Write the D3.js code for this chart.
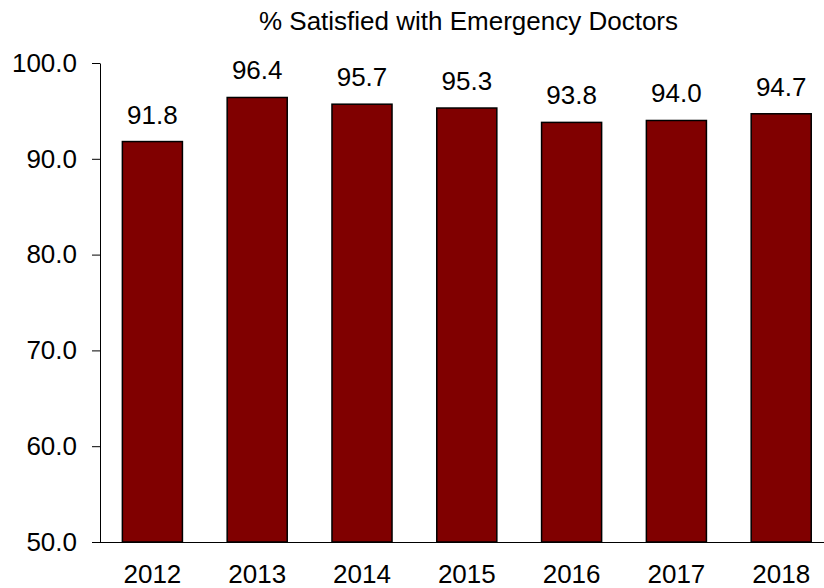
<!DOCTYPE html>
<html><head><meta charset="utf-8">
<script src="https://cdn.jsdelivr.net/npm/d3@7"></script>
<style>body{margin:0;background:#fff}svg{display:block}text{font-family:"Liberation Sans",Arial,sans-serif;fill:#000}</style>
</head><body><svg id="c" width="824" height="588"></svg>
<script>
const years = ["2012","2013","2014","2015","2016","2017","2018"];
const satisfied = [91.8,96.4,95.7,95.3,93.8,94.0,94.7];
const yTicks = [50,60,70,80,90,100];
const title = "% Satisfied with Emergency Doctors";

const svg = d3.select("#c");
const x = d3.scaleBand().domain(years).range([100, 833.6]).paddingInner(0.427).paddingOuter(0.2135);
const y = d3.scaleLinear().domain([50,100]).range([542, 63]);

svg.append("text").attr("x", 468.5).attr("y", 30).attr("text-anchor","middle")
  .style("font-size","26px").text(title);

const ya = svg.append("g").attr("transform","translate(100,0)")
  .call(d3.axisLeft(y).tickValues(yTicks).tickFormat(d3.format(".1f")).tickSize(8).tickSizeOuter(0));
ya.attr("font-size", null).attr("font-family", null);
ya.select(".domain").attr("stroke","#000");
ya.selectAll(".tick line").attr("stroke","#000");
ya.selectAll(".tick text").attr("x",-23).style("font-size","26px").attr("fill","#000");

svg.selectAll("rect.bar").data(years).join("rect").attr("class","bar")
  .attr("x", d => x(d)).attr("width", x.bandwidth())
  .attr("y", (d,i) => y(satisfied[i])).attr("height", (d,i) => y(50) - y(satisfied[i]))
  .attr("fill","#800000").attr("stroke","#000").attr("stroke-width",1.5);

const xa = svg.append("g").attr("transform","translate(0,542)")
  .call(d3.axisBottom(x).tickSize(0).tickSizeOuter(0));
xa.attr("font-size", null).attr("font-family", null);
xa.select(".domain").attr("stroke","#000").attr("d","M100,0.5H824");
xa.selectAll(".tick text").attr("y",41).attr("dy",null).style("font-size","26px").attr("fill","#000");

svg.selectAll("text.lbl").data(years).join("text").attr("class","lbl")
  .attr("x", d => x(d) + x.bandwidth()/2)
  .attr("y", (d,i) => y(satisfied[i]) - 18)
  .attr("text-anchor","middle").style("font-size","26px")
  .text((d,i) => satisfied[i].toFixed(1));
</script></body></html>
